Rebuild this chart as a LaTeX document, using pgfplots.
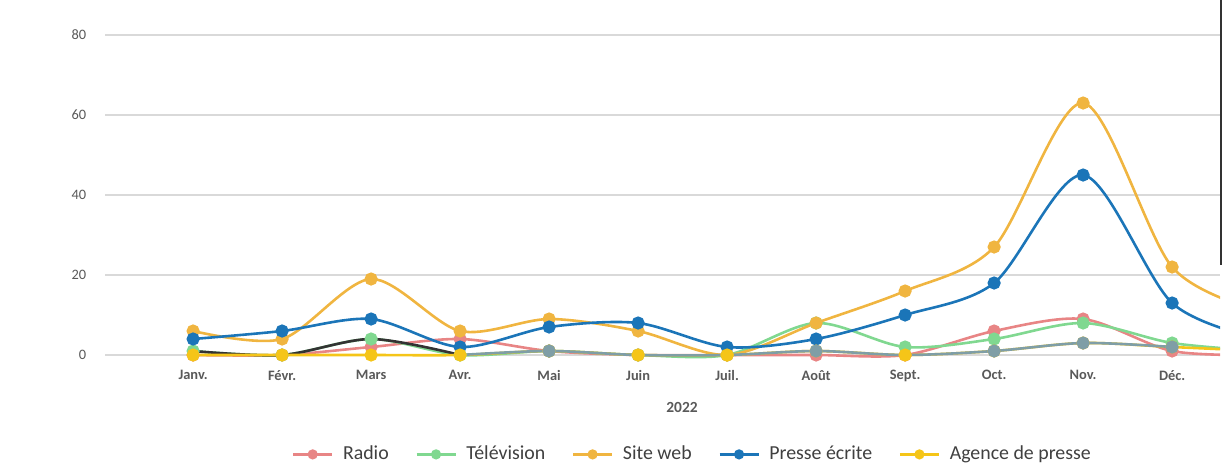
\documentclass[border=0pt]{standalone}
\usepackage{fontspec}
\setmainfont{Carlito}
\usepackage{pgfplots}
\pgfplotsset{compat=1.18}
\definecolor{cRadio}{HTML}{E88585}
\definecolor{cTV}{HTML}{80D890}
\definecolor{cWeb}{HTML}{F0B540}
\definecolor{cPresse}{HTML}{1B75B8}
\definecolor{cAgence}{HTML}{F5C518}
\definecolor{cGray}{HTML}{7F9EA6}
\definecolor{cDark}{HTML}{333333}
\definecolor{gridgray}{HTML}{D9D9D9}
\definecolor{lblgray}{HTML}{595959}
\definecolor{leggray}{HTML}{404040}
\begin{document}
\begin{tikzpicture}
\useasboundingbox (0,0) rectangle (24.44,9.34);
\begin{axis}[
  at={(2.10cm,2.08cm)}, anchor=south west,
  scale only axis, width=22.30cm, height=6.72cm,
  xmin=-0.99, xmax=11.538, ymin=-2, ymax=82,
  ytick={0,20,40,60,80},
  xtick={0,...,11},
  xticklabels={Janv.,Févr.,Mars,Avr.,Mai,Juin,Juil.,Août,Sept.,Oct.,Nov.,Déc.},
  ymajorgrids, grid style={color=gridgray, line width=0.04cm},
  axis line style={draw=none}, major tick style={draw=none},
  tick label style={font=\fontsize{8.2}{9}\selectfont, text=lblgray},
  xticklabel style={font=\bfseries\fontsize{8.2}{9}\selectfont, yshift=-0.02cm},
  yticklabel style={xshift=-0.25cm},
  /pgf/number format/assume math mode=true,
  every axis plot/.append style={smooth, line width=0.052cm, mark=*, mark size=0.105cm},
  legend style={at={(0.5274,-0.272)}, anchor=center, draw=none, fill=none,
    legend columns=-1, font=\fontsize{11.3}{12}\selectfont, text=leggray,
    /tikz/every odd column/.append style={column sep=0.12cm},
    /tikz/every even column/.append style={column sep=0.46cm}},
  legend image code/.code={\draw[#1, mark=none] (0cm,0cm) -- (0.78cm,0cm); \fill[#1] (0.39cm,0cm) circle (0.075cm);},
]
\addplot[color=cRadio] coordinates {(0,0) (1,0) (2,2) (3,4) (4,1) (5,0) (6,0) (7,0) (8,0) (9,6) (10,9) (11,1) (12,0)};
\addlegendentry{Radio}
\addplot[color=cTV] coordinates {(0,1) (1,0) (2,4) (3,0) (4,1) (5,0) (6,0) (7,8) (8,2) (9,4) (10,8) (11,3) (12,1)};
\addlegendentry{Télévision}
\addplot[color=cWeb] coordinates {(0,6) (1,4) (2,19) (3,6) (4,9) (5,6) (6,0) (7,8) (8,16) (9,27) (10,63) (11,22) (12,11)};
\addlegendentry{Site web}
\addplot[color=cPresse] coordinates {(0,4) (1,6) (2,9) (3,2) (4,7) (5,8) (6,2) (7,4) (8,10) (9,18) (10,45) (11,13) (12,4)};
\addlegendentry{Presse écrite}
\addplot[color=cDark, mark=none, forget plot] coordinates {(0,1) (1,0) (2,4) (3,0)};
\addplot[color=cAgence] coordinates {(0,0) (1,0) (2,0) (3,0) (4,1) (5,0) (6,0) (7,1) (8,0) (9,1) (10,3) (11,2) (12,1)};
\addlegendentry{Agence de presse}
\addplot[color=cGray, forget plot, mark indices={2,5,7,8,9}] coordinates {(3,0) (4,1) (5,0) (6,0) (7,1) (8,0) (9,1) (10,3) (11,2)};
\end{axis}
\node[font=\bfseries\fontsize{8.8}{10}\selectfont, text=lblgray] at (13.64,1.20) {2022};
\draw[cDark, line width=0.04cm] (24.42,9.34) -- (24.42,4.04);
\end{tikzpicture}
\end{document}
